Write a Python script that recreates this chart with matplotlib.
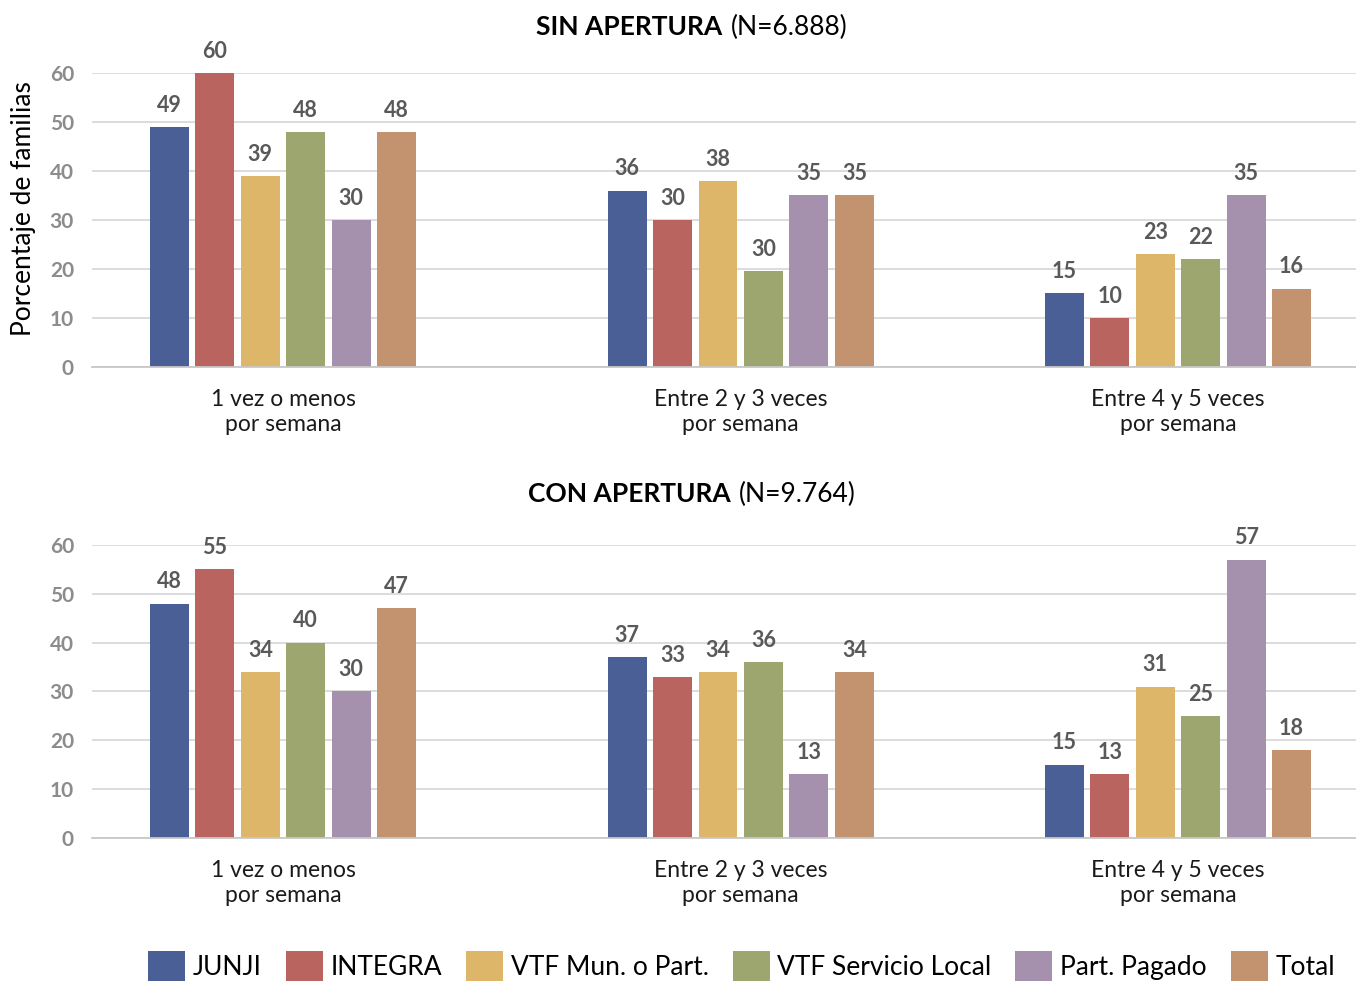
import numpy as np
import matplotlib
matplotlib.use("Agg")
import matplotlib.pyplot as plt
from matplotlib.patches import Patch

plt.rcParams['font.family'] = ['Lato', 'DejaVu Sans']

# datos
grupos = ["1 vez o menos\npor semana", "Entre 2 y 3 veces\npor semana", "Entre 4 y 5 veces\npor semana"]
series = ["JUNJI", "INTEGRA", "VTF Mun. o Part.", "VTF Servicio Local", "Part. Pagado", "Total"]
colores = ["#4a5f96", "#b9645e", "#ddb66a", "#9da66f", "#a590ad", "#c2936e"]

# SIN APERTURA: alturas por grupo (una fila por grupo) y etiquetas tal como aparecen
sin_vals = [[49, 60, 39, 48, 30, 48],
            [36, 30, 38, 19.5, 35, 35],
            [15, 10, 23, 22, 35, 16]]
sin_labels = [["49", "60", "39", "48", "30", "48"],
              ["36", "30", "38", "30", "35", "35"],
              ["15", "10", "23", "22", "35", "16"]]

# CON APERTURA
con_vals = [[48, 55, 34, 40, 30, 47],
            [37, 33, 34, 36, 13, 34],
            [15, 13, 31, 25, 57, 18]]
con_labels = [[str(v) for v in fila] for fila in con_vals]

yticks = [0, 10, 20, 30, 40, 50, 60]

GRIS = "#595959"
pos_grupos = [0, 1.023, 2]   # el grupo central esta algo corrido en el original


def barras(ax, vals, labels):
    vals = np.array(vals, dtype=float)
    x = np.array(pos_grupos)
    paso = 0.1016
    ancho = 0.087
    for j in range(len(series)):
        pos = x + (j - 2.5) * paso
        ax.bar(pos, vals[:, j], width=ancho, color=colores[j], zorder=3)
        for i in range(len(grupos)):
            ax.annotate(labels[i][j], (pos[i], vals[i, j]), xytext=(0, 11),
                        textcoords="offset points", ha="center", va="baseline",
                        fontsize=15.5, fontweight="bold", color=GRIS,
                        annotation_clip=False)
    ax.set_xlim(-0.427, 2.398)
    ax.set_ylim(0, 60)
    ax.set_yticks(yticks)
    ax.set_yticklabels([str(t) for t in yticks], fontsize=15, fontweight="bold", color="#8c8c8c")
    ax.set_xticks(x)
    ax.set_xticklabels(grupos, fontsize=16.5, color="#1a1a1a", linespacing=1.2)
    ax.tick_params(axis="y", length=0, pad=13)
    ax.tick_params(axis="x", length=0, pad=16)
    ax.grid(axis="y", color="#d9d9d9", linewidth=1.3, zorder=0)
    for s in ["top", "right", "left"]:
        ax.spines[s].set_visible(False)
    ax.spines["bottom"].set_color("#c8c8c8")
    ax.spines["bottom"].set_linewidth(1.3)
    ax.spines["bottom"].set_zorder(4)


fig = plt.figure(figsize=(13.56, 9.81), dpi=100)
ax1 = fig.add_axes([0.0678, 0.6259, 0.9322, 0.2997])
ax2 = fig.add_axes([0.0678, 0.1458, 0.9322, 0.2987])

barras(ax1, sin_vals, sin_labels)
barras(ax2, con_vals, con_labels)

# titulos: parte en negrita + parte normal
fig.text(0.5324, 0.9725, "SIN APERTURA", ha="right", va="center", fontsize=19, fontweight="bold", color="black")
fig.text(0.5390, 0.9725, "(N=6.888)", ha="left", va="center", fontsize=19, color="black")
fig.text(0.5390, 0.4964, "CON APERTURA", ha="right", va="center", fontsize=19, fontweight="bold", color="black")
fig.text(0.5450, 0.4964, "(N=9.764)", ha="left", va="center", fontsize=19, color="black")

fig.text(0.017, 0.787, "Porcentaje de familias", rotation=90, ha="center", va="center",
         fontsize=19, color="black")

handles = [Patch(facecolor=c, edgecolor="none") for c in colores]
fig.legend(handles, series, loc="upper center", bbox_to_anchor=(0.547, 1 - 940 / 981),
           ncol=6, frameon=False, fontsize=19, handlelength=1.4, handleheight=1.4,
           handletextpad=0.3, columnspacing=0.9, borderaxespad=0)

fig.savefig("out.png", dpi=100)
